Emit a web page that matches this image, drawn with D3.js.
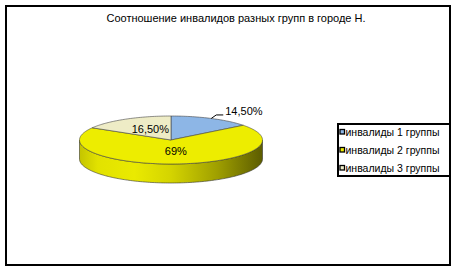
<!DOCTYPE html>
<html><head><meta charset="utf-8">
<script src="https://cdn.jsdelivr.net/npm/d3@7"></script>
<style>
html,body{margin:0;padding:0;background:#fff;}
svg{display:block;font-family:"Liberation Sans",Arial,sans-serif;}
</style></head>
<body>
<svg id="chart" width="456" height="270"></svg>
<script>
const title = "Соотношение инвалидов разных групп в городе Н.";
const categories = ["инвалиды 1 группы", "инвалиды 2 группы", "инвалиды 3 группы"];
const values = [14.5, 69, 16.5];
const labels = ["14,50%", "69%", "16,50%"];
const colors = ["#8db6e6", "#eded00", "#eeecc6"];

const svg = d3.select("#chart");
// outer frame
svg.append("rect").attr("x", 6).attr("y", 6).attr("width", 444).attr("height", 259)
  .attr("fill", "#fff").attr("stroke", "#000").attr("stroke-width", 2);

svg.append("text").attr("x", 236).attr("y", 22).attr("text-anchor", "middle")
  .attr("font-size", 11).attr("fill", "#000").text(title);

const cx = 171, cy = 140, rx = 91.5, ry = 24, depth = 19;
const pie = d3.pie().sort(null).value(d => d)(values);

const pt = (a, k = 1, dy = 0) => [cx + rx * k * Math.sin(a), cy - ry * k * Math.cos(a) + dy];
const line = d3.line();
function arcPts(a0, a1, dy = 0) {
  const n = Math.max(2, Math.ceil((a1 - a0) / 0.02));
  return d3.range(n + 1).map(i => pt(a0 + (a1 - a0) * i / n, 1, dy));
}

// side gradient
const defs = svg.append("defs");
const g = defs.append("linearGradient").attr("id", "sideG")
  .attr("gradientUnits", "userSpaceOnUse").attr("x1", cx - rx).attr("x2", cx + rx).attr("y1", 0).attr("y2", 0);
[[0, "#c4c400"], [0.1, "#e2e200"], [0.3, "#eaea00"], [0.5, "#d4d400"], [0.75, "#a0a000"], [1, "#5c5c00"]]
  .forEach(([o, c]) => g.append("stop").attr("offset", o).attr("stop-color", c));

// sides (visible front half: angles PI/2..3PI/2)
pie.forEach((s, i) => {
  const a0 = Math.max(s.startAngle, Math.PI / 2), a1 = Math.min(s.endAngle, 3 * Math.PI / 2);
  if (a1 <= a0) return;
  const top = arcPts(a0, a1), bot = arcPts(a0, a1, depth).reverse();
  svg.append("path").attr("d", line(top.concat(bot)) + "Z")
    .attr("fill", i === 1 ? "url(#sideG)" : colors[i])
    .attr("stroke", "#333").attr("stroke-width", 0.6);
});

// top faces
pie.forEach((s, i) => {
  const pts = [[cx, cy]].concat(arcPts(s.startAngle, s.endAngle));
  svg.append("path").attr("d", line(pts) + "Z")
    .attr("fill", colors[i]).attr("stroke", "#444").attr("stroke-width", 0.6);
});

// labels
const lbl = svg.append("g").attr("font-size", 11).attr("fill", "#000");
pie.forEach((s, i) => {
  const mid = (s.startAngle + s.endAngle) / 2;
  if (i === 0) {
    const p0 = pt(mid, 1.0);
    const p1 = [p0[0] + 5, p0[1] - 3.5];
    const p2 = [p1[0] + 7, p1[1]];
    svg.append("path").attr("d", line([p0, p1, p2])).attr("fill", "none")
      .attr("stroke", "#000").attr("stroke-width", 1);
    lbl.append("text").attr("x", p2[0] + 2).attr("y", p2[1] + 0).attr("text-anchor", "start").text(labels[i]);
  } else {
    const p = pt(mid, 0.5);
    lbl.append("text").attr("x", p[0] + 2).attr("y", p[1] + 3).attr("text-anchor", "middle").text(labels[i]);
  }
});

// legend
const lg = svg.append("g");
lg.append("rect").attr("x", 338).attr("y", 124).attr("width", 112).attr("height", 52)
  .attr("fill", "#fff").attr("stroke", "#000").attr("stroke-width", 2);
const ly = d3.scalePoint().domain(categories).range([132, 168]);
categories.forEach((c, i) => {
  lg.append("rect").attr("x", 340).attr("y", ly(c) - 2.5).attr("width", 4.5).attr("height", 4.5)
    .attr("fill", colors[i]).attr("stroke", "#000").attr("stroke-width", 1.3);
  lg.append("text").attr("x", 345.5).attr("y", ly(c) + 3.5).attr("font-size", 10.5)
    .attr("fill", "#000").text(c);
});
</script>
</body></html>
